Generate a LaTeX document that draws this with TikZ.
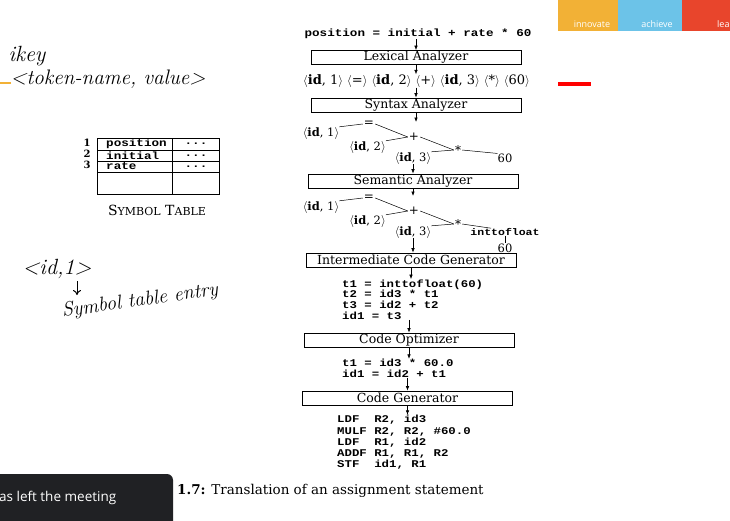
\documentclass[tikz,border=0pt]{standalone}
\usepackage{fontspec}
\setmonofont{Liberation Mono}[FakeStretch=1.2]
\newfontfamily\book{DejaVu Serif}
\newfontfamily\ui{Open Sans}
\usetikzlibrary{arrows.meta}
\definecolor{bannerorange}{HTML}{F2B136}
\definecolor{bannerblue}{HTML}{6CC3E8}
\definecolor{bannerred}{HTML}{E8452C}
\definecolor{toastbg}{HTML}{202124}
\begin{document}
\begin{tikzpicture}[x=1pt,y=-1pt,
  stage/.style={draw, line width=0.7pt, minimum width=210pt, minimum height=14pt, inner sep=0pt, font=\book\fontsize{12.5}{12}\selectfont},
  codeline/.style={anchor=base west, inner sep=0pt, font=\ttfamily\bfseries\fontsize{10.3}{10}\selectfont},
  flow/.style={-{Latex[length=4.5pt,width=3.5pt]}, line width=0.6pt},
  leaf/.style={font=\book\fontsize{11.5}{10}\selectfont, inner sep=0pt},
  opnode/.style={font=\book\fontsize{12}{10}\selectfont, inner sep=1pt},
  treeedge/.style={line width=0.5pt},
  hand/.style={font=\itshape\fontsize{21}{21}\selectfont},
  cell/.style={font=\ttfamily\bfseries\fontsize{10.5}{10}\selectfont, inner sep=0pt},
]
\useasboundingbox (0,0) rectangle (730,520);
\fill[white] (0,0) rectangle (730,520);

% banner
\fill[bannerorange] (558,0) rectangle (618,31);
\fill[bannerblue] (618,0) rectangle (682,31);
\fill[bannerred] (682,0) rectangle (730,31);
\node[text=white, font=\ui\fontsize{9}{9}\selectfont] (bn1) at (592,24) {innovate};
\node[text=white, font=\ui\fontsize{9}{9}\selectfont] (bn2) at (657,24) {achieve};
\node[text=white, font=\ui\fontsize{9}{9}\selectfont, anchor=west, inner sep=0pt] (bn3) at (717,24) {lea};
\fill[red] (558,82) rectangle (591,86);
\fill[bannerorange] (0,81.5) rectangle (11,84);

% handwriting
\node[hand, font=\itshape\fontsize{22}{22}\selectfont, inner sep=0pt] (hkey) at (27,56) {ikey};
\node[hand, inner sep=0pt] (htok) at (108,79) {\textless token-name, value\textgreater};
\node[hand, font=\itshape\fontsize{22}{22}\selectfont, inner sep=0pt] (hid) at (57,269) {\textless id,1\textgreater};
\node[hand, rotate=8, inner sep=0pt, font=\itshape\fontsize{20}{20}\selectfont] (hentry) at (140,301) {Symbol table entry};
\coordinate (harrowstart) at (77,281);
\coordinate (harrowend) at (77,295);
\draw[-{To[length=5pt,width=8pt]}, line width=1pt] (harrowstart) -- (harrowend);

% symbol table
\draw[line width=0.7pt] (97,138) rectangle (219,194);
\draw[line width=0.7pt] (172,138) -- (172,194);
\draw[line width=0.7pt] (97,150) -- (219,150) (97,161) -- (219,161) (97,172) -- (219,172);
\node[font=\book\bfseries\fontsize{10}{10}\selectfont, inner sep=0pt] (n1) at (87,143) {1};
\node[font=\book\bfseries\fontsize{10}{10}\selectfont, inner sep=0pt] (n2) at (87,153.5) {2};
\node[font=\book\bfseries\fontsize{10}{10}\selectfont, inner sep=0pt] (n3) at (87,165) {3};
\node[cell, anchor=west] (p1) at (106,144) {position};
\node[cell, anchor=west] (p2) at (106,155.5) {initial};
\node[cell, anchor=west] (p3) at (106,166.5) {rate};
\node[cell] (d1) at (196,144) {...};
\node[cell] (d2) at (196,155.5) {...};
\node[cell] (d3) at (196,166.5) {...};
\node[font=\book\fontsize{14}{14}\selectfont, inner sep=0pt] (symcap) at (157,210) {S{\fontsize{11}{11}\selectfont YMBOL} T{\fontsize{11}{11}\selectfont ABLE}};

% pipeline
\node[font=\ttfamily\bfseries\fontsize{10.5}{10}\selectfont, inner sep=0pt] (src) at (418,34) {position = initial + rate * 60};
\node[stage] (lex) at (416,57.5) {Lexical Analyzer};
\node[font=\book\fontsize{13}{12}\selectfont, inner sep=0pt] (tok) at (416.5,81) {$\langle$\textbf{id}, 1$\rangle$ $\langle$=$\rangle$ $\langle$\textbf{id}, 2$\rangle$ $\langle$+$\rangle$ $\langle$\textbf{id}, 3$\rangle$ $\langle$*$\rangle$ $\langle$60$\rangle$};
\node[stage] (syn) at (416,105) {Syntax Analyzer};

% tree 1
\node[opnode] (eqA) at (369,124) {=};
\node[leaf] (id1A) at (321,133) {$\langle$\textbf{id}, 1$\rangle$};
\node[opnode] (plA) at (414,137) {+};
\node[leaf] (id2A) at (367.5,147) {$\langle$\textbf{id}, 2$\rangle$};
\node[opnode] (stA) at (458,150) {*};
\node[leaf] (id3A) at (413,158) {$\langle$\textbf{id}, 3$\rangle$};
\node[leaf] (sixA) at (505,158) {60};
\coordinate (synend) at (416,122);
\draw[flow] (syn.south -| synend) -- (synend);
\draw[treeedge] (id1A.north east) -- (eqA.west);
\draw[treeedge] (eqA.east) -- (plA.west);
\draw[treeedge] (id2A.north east) -- (plA.west);
\draw[treeedge] (plA.east) -- (stA.west);
\draw[treeedge] (id3A.north east) -- (stA.west);
\draw[treeedge] (stA.east) -- (sixA.north west);

\node[stage] (sem) at (413,181) {Semantic Analyzer};
\draw[flow] (id3A.south) -- (id3A.south |- sem.north);

% tree 2
\node[opnode] (eqB) at (369,198) {=};
\node[leaf] (id1B) at (321,207) {$\langle$\textbf{id}, 1$\rangle$};
\node[opnode] (plB) at (414,211) {+};
\node[leaf] (id2B) at (367.5,221) {$\langle$\textbf{id}, 2$\rangle$};
\node[opnode] (stB) at (458,224) {*};
\node[leaf] (id3B) at (413,232) {$\langle$\textbf{id}, 3$\rangle$};
\node[font=\ttfamily\bfseries\fontsize{9.6}{10}\selectfont, inner sep=0pt] (itf) at (505,232) {inttofloat};
\node[leaf] (sixB) at (505,248) {60};
\coordinate (semend) at (413,196);
\draw[flow] (sem.south -| semend) -- (semend);
\draw[treeedge] (id1B.north east) -- (eqB.west);
\draw[treeedge] (eqB.east) -- (plB.west);
\draw[treeedge] (id2B.north east) -- (plB.west);
\draw[treeedge] (plB.east) -- (stB.west);
\draw[treeedge] (id3B.north east) -- (stB.west);
\draw[treeedge] (stB.east) -- ([xshift=-14pt]itf.north);
\draw[treeedge] (itf.south) -- (sixB.north);

\node[stage] (icg) at (411,260) {Intermediate Code Generator};
\draw[flow] (id3B.south) -- (id3B.south |- icg.north);

\node[codeline] (ic1) at (342,287) {t1 = inttofloat(60)};
\node[codeline] (ic2) at (342,297.5) {t2 = id3 * t1};
\node[codeline] (ic3) at (342,308.5) {t3 = id2 + t2};
\node[codeline] (ic4) at (342,319.5) {id1 = t3};

\node[stage] (opt) at (409,340) {Code Optimizer};
\node[codeline] (oc1) at (342,366.5) {t1 = id3 * 60.0};
\node[codeline] (oc2) at (342,377.5) {id1 = id2 + t1};

\node[stage] (gen) at (407.5,398) {Code Generator};
\node[codeline] (as1) at (337,422.5) {LDF~~R2, id3};
\node[codeline] (as2) at (337,434.5) {MULF R2, R2, \#60.0};
\node[codeline] (as3) at (337,445.5) {LDF~~R1, id2};
\node[codeline] (as4) at (337,456.5) {ADDF R1, R1, R2};
\node[codeline] (as5) at (337,467.5) {STF~~id1, R1};

\draw[flow] (src.south -| lex.north) -- (lex.north);
\draw[flow] (lex.south) -- (lex.south |- tok.north);
\draw[flow] (tok.south -| syn.north) -- (syn.north);
\draw[flow] (icg.south) -- (icg.south |- ic1.north);
\draw[flow] (opt.north |- ic4.south) -- (opt.north);
\draw[flow] (opt.south) -- (opt.south |- oc1.north);
\draw[flow] (gen.north |- oc2.south) -- (gen.north);
\draw[flow] (gen.south) -- (gen.south |- as1.north);

% caption
\node[anchor=west, inner sep=0pt, font=\book\fontsize{13.5}{13}\selectfont] (cap) at (177,491) {\textbf{1.7:} Translation of an assignment statement};

% toast
\fill[toastbg, rounded corners=6pt] (-10,474) rectangle (173,530);
\node[anchor=west, inner sep=0pt, text=white, font=\ui\fontsize{13.5}{13.5}\selectfont] (toasttxt) at (-1,498) {as left the meeting};
\end{tikzpicture}
\end{document}
